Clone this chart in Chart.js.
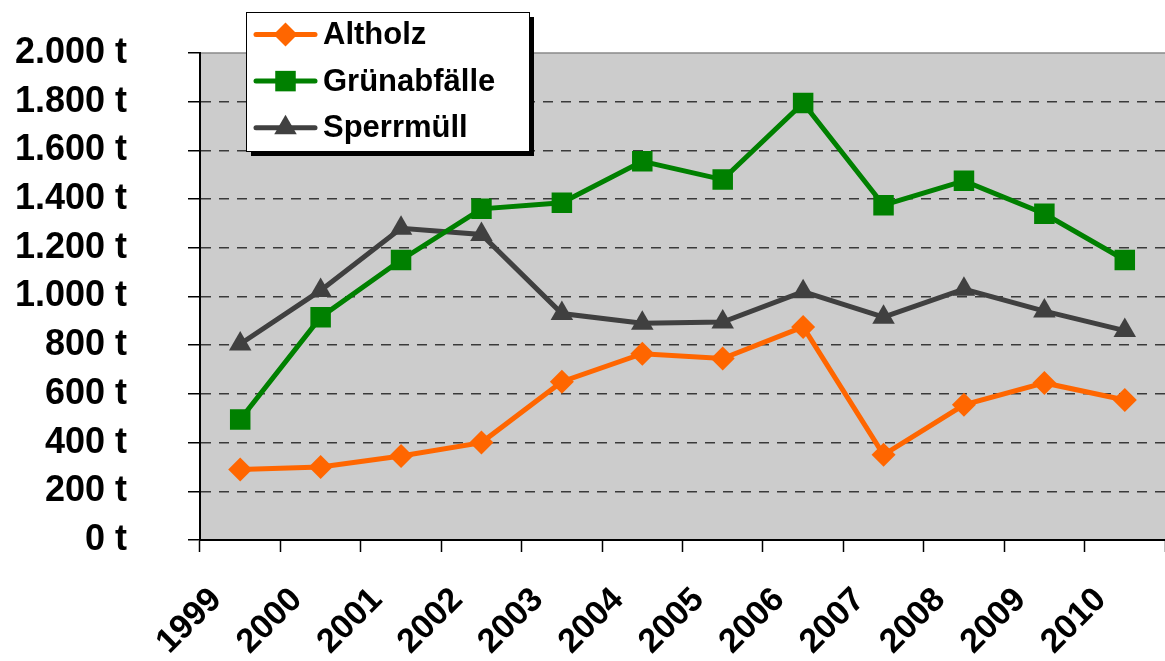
<!DOCTYPE html>
<html><head><meta charset="utf-8">
<script src="https://cdn.jsdelivr.net/npm/chart.js@4/dist/chart.umd.min.js"></script>
<style>html,body{margin:0;padding:0;background:#fff;}canvas{display:block}</style>
</head><body>
<canvas id="c" width="1165" height="661"></canvas>
<script>
const years = ['1999','2000','2001','2002','2003','2004','2005','2006','2007','2008','2009','2010'];
const altholz = [290, 300, 345, 400, 650, 765, 745, 875, 350, 555, 645, 575];
const gruenabfaelle = [495, 915, 1150, 1360, 1385, 1555, 1480, 1795, 1375, 1475, 1340, 1150];
const sperrmuell = [805, 1025, 1280, 1255, 930, 890, 895, 1020, 915, 1030, 940, 860];
const seriesNames = ['Altholz', 'Grünabfälle', 'Sperrmüll'];
const yTickLabels = ['0 t','200 t','400 t','600 t','800 t','1.000 t','1.200 t','1.400 t','1.600 t','1.800 t','2.000 t'];

const FONT = "'Liberation Sans', Arial, Helvetica, sans-serif";

const bgPlugin = {
  id: 'plotBg',
  beforeDraw(chart) {
    const {ctx, chartArea: a} = chart;
    ctx.save();
    ctx.fillStyle = '#CCCCCC';
    ctx.fillRect(a.left, a.top, a.right - a.left, a.bottom - a.top);
    ctx.strokeStyle = '#8a8a8a';
    ctx.lineWidth = 1.5;
    ctx.beginPath();
    ctx.moveTo(a.left, a.top);
    ctx.lineTo(a.right, a.top);
    ctx.stroke();
    ctx.restore();
  }
};

const legendPlugin = {
  id: 'boxLegend',
  afterDraw(chart) {
    const ctx = chart.ctx;
    const bx = 246, by = 12, bw = 283, bh = 139, sh = 5;
    ctx.save();
    ctx.setLineDash([]);
    ctx.fillStyle = '#000';
    ctx.fillRect(bx + sh, by + sh, bw, bh);
    ctx.fillStyle = '#fff';
    ctx.fillRect(bx, by, bw, bh);
    ctx.strokeStyle = '#000';
    ctx.lineWidth = 1;
    ctx.strokeRect(bx + 0.5, by + 0.5, bw, bh);
    chart.data.datasets.forEach((ds, i) => {
      const y = 34.5 + i * 46.6;
      ctx.strokeStyle = ds.borderColor;
      ctx.lineWidth = 5;
      ctx.lineCap = 'round';
      ctx.beginPath();
      ctx.moveTo(256, y);
      ctx.lineTo(315, y);
      ctx.stroke();
      ctx.fillStyle = ds.borderColor;
      Chart.helpers.drawPoint(ctx, {
        pointStyle: ds.pointStyle,
        radius: ds.pointRadius,
        rotation: 0,
        borderWidth: 0
      }, 285.5, y);
      ctx.fillStyle = '#000';
      ctx.font = 'bold 31px ' + FONT;
      ctx.textBaseline = 'middle';
      ctx.textAlign = 'left';
      ctx.fillText(ds.label, 323, y + 1);
    });
    ctx.restore();
  }
};

function mkDs(label, data, color, style, r) {
  return {
    label, data,
    borderColor: color,
    backgroundColor: color,
    pointBackgroundColor: color,
    pointBorderColor: color,
    borderWidth: 5,
    pointStyle: style,
    pointRadius: r,
    pointHoverRadius: r,
    pointBorderWidth: 0,
    tension: 0
  };
}

new Chart(document.getElementById('c'), {
  type: 'line',
  data: {
    labels: years,
    datasets: [
      mkDs(seriesNames[0], altholz, '#FF6600', 'rectRot', 12),
      mkDs(seriesNames[1], gruenabfaelle, '#008000', 'rect', 14.5),
      mkDs(seriesNames[2], sperrmuell, '#404040', 'triangle', 13)
    ]
  },
  options: {
    responsive: false,
    animation: false,
    layout: {autoPadding: false, padding: {top: 53, right: 0, left: 0, bottom: 0}},
    plugins: {legend: {display: false}, title: {display: false}, tooltip: {enabled: false}},
    scales: {
      x: {
        type: 'category',
        offset: true,
        grid: {offset: true, drawOnChartArea: false, drawTicks: true, tickLength: 12, color: '#000', tickColor: '#000', tickWidth: 1.5},
        border: {display: true, color: '#000', width: 2},
        ticks: {
          autoSkip: false, minRotation: 45, maxRotation: 45,
          font: {family: FONT, size: 34, weight: 'bold'}, color: '#000',
          padding: 28, labelOffset: -24
        },
        afterFit(s) { s.height = 121; s.paddingLeft = 0; s.paddingRight = 0; }
      },
      y: {
        min: 0, max: 2000,
        ticks: {
          stepSize: 200,
          font: {family: FONT, size: 36, weight: 'bold'}, color: '#000',
          padding: 61,
          callback: (v, i) => yTickLabels[i]
        },
        grid: {
          drawTicks: true, tickLength: 12, tickColor: '#000', tickWidth: 1.5, tickBorderDash: [],
          lineWidth: 1.5,
          color: (c) => (c.tick && (c.tick.value === 0 || c.tick.value === 2000)) ? 'rgba(0,0,0,0)' : '#3a3a3a'
        },
        border: {display: true, color: '#000', width: 2, dash: [10, 8]},
        afterFit(s) { s.width = 200; s.paddingTop = 0; s.paddingBottom = 0; }
      }
    }
  },
  plugins: [bgPlugin, legendPlugin]
});
</script>
</body></html>
